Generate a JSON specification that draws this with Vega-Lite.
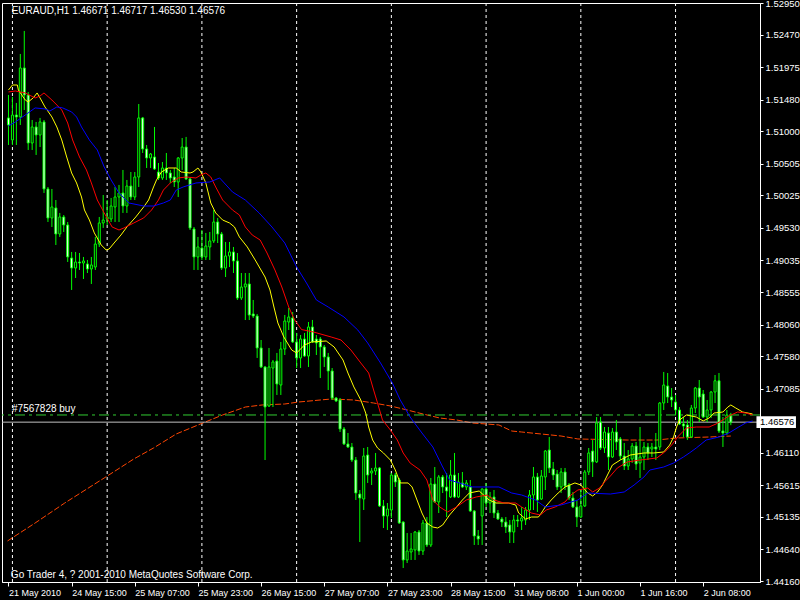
{
  "$schema": "https://vega.github.io/schema/vega-lite/v6.json",
  "width": 758,
  "height": 579,
  "autosize": {"type": "none"},
  "padding": {"left": 2, "top": 3, "right": 40, "bottom": 18},
  "background": "#000000",
  "config": {
    "view": {"stroke": "#ffffff", "strokeWidth": 1},
    "axis": {"labelOverlap": false, "labelBound": false, "labelFlush": false, "labelColor": "#ffffff", "labelFont": "Liberation Sans",
             "tickColor": "#ffffff", "domainColor": "#ffffff", "grid": false, "title": null}
  },
  "datasets": {
    "candles": [
      {"i":0,"o":1.51202,"h":1.51551,"l":1.50791,"c":1.51095},
      {"i":1,"o":1.50867,"h":1.51521,"l":1.50791,"c":1.51247},
      {"i":2,"o":1.51247,"h":1.51430,"l":1.50791,"c":1.51217},
      {"i":3,"o":1.51217,"h":1.52175,"l":1.51095,"c":1.51962},
      {"i":4,"o":1.51962,"h":1.52525,"l":1.51323,"c":1.51551},
      {"i":5,"o":1.51551,"h":1.51597,"l":1.50715,"c":1.50821},
      {"i":6,"o":1.50821,"h":1.51171,"l":1.50715,"c":1.51065},
      {"i":7,"o":1.51065,"h":1.51141,"l":1.50639,"c":1.50943},
      {"i":8,"o":1.50943,"h":1.51202,"l":1.50760,"c":1.51141},
      {"i":9,"o":1.51141,"h":1.51171,"l":1.50061,"c":1.50122},
      {"i":10,"o":1.50122,"h":1.50152,"l":1.49620,"c":1.49681},
      {"i":11,"o":1.49681,"h":1.50122,"l":1.49544,"c":1.49848},
      {"i":12,"o":1.49833,"h":1.49954,"l":1.49270,"c":1.49437},
      {"i":13,"o":1.49437,"h":1.49757,"l":1.49392,"c":1.49696},
      {"i":14,"o":1.49696,"h":1.49726,"l":1.49468,"c":1.49574},
      {"i":15,"o":1.49574,"h":1.49620,"l":1.49012,"c":1.49088},
      {"i":16,"o":1.49072,"h":1.49164,"l":1.48586,"c":1.48920},
      {"i":17,"o":1.48920,"h":1.49164,"l":1.48768,"c":1.49011},
      {"i":18,"o":1.49011,"h":1.49148,"l":1.48890,"c":1.48996},
      {"i":19,"o":1.48996,"h":1.49088,"l":1.48753,"c":1.49027},
      {"i":20,"o":1.48981,"h":1.49042,"l":1.48844,"c":1.48905},
      {"i":21,"o":1.48905,"h":1.49088,"l":1.48677,"c":1.48966},
      {"i":22,"o":1.48935,"h":1.49392,"l":1.48890,"c":1.49285},
      {"i":23,"o":1.49285,"h":1.49696,"l":1.49240,"c":1.49605},
      {"i":24,"o":1.49605,"h":1.50030,"l":1.49529,"c":1.49650},
      {"i":25,"o":1.49665,"h":1.49954,"l":1.49574,"c":1.49696},
      {"i":26,"o":1.49665,"h":1.49985,"l":1.49620,"c":1.49863},
      {"i":27,"o":1.49848,"h":1.50152,"l":1.49620,"c":1.50000},
      {"i":28,"o":1.50000,"h":1.50183,"l":1.49620,"c":1.50061},
      {"i":29,"o":1.50061,"h":1.50411,"l":1.49757,"c":1.49863},
      {"i":30,"o":1.49863,"h":1.50259,"l":1.49757,"c":1.50167},
      {"i":31,"o":1.50167,"h":1.50380,"l":1.49954,"c":1.50000},
      {"i":32,"o":1.50000,"h":1.50380,"l":1.49954,"c":1.50304},
      {"i":33,"o":1.50304,"h":1.51414,"l":1.50152,"c":1.51202},
      {"i":34,"o":1.51202,"h":1.51217,"l":1.50669,"c":1.50730},
      {"i":35,"o":1.50730,"h":1.50791,"l":1.50441,"c":1.50593},
      {"i":36,"o":1.50593,"h":1.50669,"l":1.50441,"c":1.50654},
      {"i":37,"o":1.50608,"h":1.51065,"l":1.50411,"c":1.50426},
      {"i":38,"o":1.50380,"h":1.50517,"l":1.50259,"c":1.50289},
      {"i":39,"o":1.50289,"h":1.50532,"l":1.50259,"c":1.50441},
      {"i":40,"o":1.50441,"h":1.50669,"l":1.50259,"c":1.50365},
      {"i":41,"o":1.50365,"h":1.50411,"l":1.50213,"c":1.50289},
      {"i":42,"o":1.50304,"h":1.50441,"l":1.50152,"c":1.50228},
      {"i":43,"o":1.50228,"h":1.50608,"l":1.50000,"c":1.50593},
      {"i":44,"o":1.50593,"h":1.50897,"l":1.50411,"c":1.50760},
      {"i":45,"o":1.50760,"h":1.50913,"l":1.50259,"c":1.50274},
      {"i":46,"o":1.50274,"h":1.50289,"l":1.49498,"c":1.49529},
      {"i":47,"o":1.49513,"h":1.49544,"l":1.48890,"c":1.49088},
      {"i":48,"o":1.49088,"h":1.49392,"l":1.48890,"c":1.49240},
      {"i":49,"o":1.49224,"h":1.49498,"l":1.49042,"c":1.49088},
      {"i":50,"o":1.49088,"h":1.49453,"l":1.49042,"c":1.49255},
      {"i":51,"o":1.49240,"h":1.49468,"l":1.49042,"c":1.49331},
      {"i":52,"o":1.49331,"h":1.49802,"l":1.49300,"c":1.49620},
      {"i":53,"o":1.49620,"h":1.49681,"l":1.49300,"c":1.49437},
      {"i":54,"o":1.49437,"h":1.49468,"l":1.48890,"c":1.48920},
      {"i":55,"o":1.48920,"h":1.49316,"l":1.48783,"c":1.49103},
      {"i":56,"o":1.49103,"h":1.49316,"l":1.48935,"c":1.49164},
      {"i":57,"o":1.49164,"h":1.49240,"l":1.48844,"c":1.49027},
      {"i":58,"o":1.49027,"h":1.49148,"l":1.48434,"c":1.48464},
      {"i":59,"o":1.48464,"h":1.48844,"l":1.48434,"c":1.48631},
      {"i":60,"o":1.48631,"h":1.48844,"l":1.48129,"c":1.48677},
      {"i":61,"o":1.48677,"h":1.48844,"l":1.48129,"c":1.48205},
      {"i":62,"o":1.48221,"h":1.48434,"l":1.48160,"c":1.48190},
      {"i":63,"o":1.48190,"h":1.48221,"l":1.47552,"c":1.47704},
      {"i":64,"o":1.47704,"h":1.47825,"l":1.47399,"c":1.47415},
      {"i":65,"o":1.47415,"h":1.47430,"l":1.46000,"c":1.46806},
      {"i":66,"o":1.46822,"h":1.47704,"l":1.46806,"c":1.47415},
      {"i":67,"o":1.47399,"h":1.47521,"l":1.46806,"c":1.47491},
      {"i":68,"o":1.47506,"h":1.47628,"l":1.46989,"c":1.47156},
      {"i":69,"o":1.47141,"h":1.47795,"l":1.46989,"c":1.47688},
      {"i":70,"o":1.47688,"h":1.48206,"l":1.47597,"c":1.48114},
      {"i":71,"o":1.48099,"h":1.48312,"l":1.47977,"c":1.48175},
      {"i":72,"o":1.48160,"h":1.48251,"l":1.47780,"c":1.47795},
      {"i":73,"o":1.47795,"h":1.47932,"l":1.47399,"c":1.47552},
      {"i":74,"o":1.47552,"h":1.47901,"l":1.47399,"c":1.47840},
      {"i":75,"o":1.47840,"h":1.47932,"l":1.47567,"c":1.47582},
      {"i":76,"o":1.47582,"h":1.48099,"l":1.47415,"c":1.48023},
      {"i":77,"o":1.48023,"h":1.48130,"l":1.47780,"c":1.47795},
      {"i":78,"o":1.47840,"h":1.47901,"l":1.47597,"c":1.47780},
      {"i":79,"o":1.47840,"h":1.47871,"l":1.47247,"c":1.47719},
      {"i":80,"o":1.47719,"h":1.47749,"l":1.47415,"c":1.47567},
      {"i":81,"o":1.47567,"h":1.47628,"l":1.47065,"c":1.47354},
      {"i":82,"o":1.47354,"h":1.47399,"l":1.46913,"c":1.46943},
      {"i":83,"o":1.46943,"h":1.46958,"l":1.46882,"c":1.46898},
      {"i":84,"o":1.46913,"h":1.46943,"l":1.46426,"c":1.46472},
      {"i":85,"o":1.46472,"h":1.46502,"l":1.46228,"c":1.46244},
      {"i":86,"o":1.46244,"h":1.46411,"l":1.46183,"c":1.46198},
      {"i":87,"o":1.46198,"h":1.46259,"l":1.45970,"c":1.46000},
      {"i":88,"o":1.46000,"h":1.46046,"l":1.45392,"c":1.45498},
      {"i":89,"o":1.45483,"h":1.45544,"l":1.44753,"c":1.45422},
      {"i":90,"o":1.45407,"h":1.46183,"l":1.45240,"c":1.46061},
      {"i":91,"o":1.46076,"h":1.46198,"l":1.45651,"c":1.45772},
      {"i":92,"o":1.45803,"h":1.45879,"l":1.45620,"c":1.45833},
      {"i":93,"o":1.45833,"h":1.46107,"l":1.45772,"c":1.45879},
      {"i":94,"o":1.45879,"h":1.45894,"l":1.45286,"c":1.45301},
      {"i":95,"o":1.45301,"h":1.45392,"l":1.44966,"c":1.45149},
      {"i":96,"o":1.45149,"h":1.45346,"l":1.44936,"c":1.45255},
      {"i":97,"o":1.45240,"h":1.45803,"l":1.45118,"c":1.45772},
      {"i":98,"o":1.45772,"h":1.45803,"l":1.45590,"c":1.45666},
      {"i":99,"o":1.45696,"h":1.45727,"l":1.45030,"c":1.45042},
      {"i":100,"o":1.45057,"h":1.45070,"l":1.44358,"c":1.44480},
      {"i":101,"o":1.44480,"h":1.44890,"l":1.44434,"c":1.44616},
      {"i":102,"o":1.44601,"h":1.44890,"l":1.44480,"c":1.44647},
      {"i":103,"o":1.44632,"h":1.44920,"l":1.44480,"c":1.44905},
      {"i":104,"o":1.44905,"h":1.44936,"l":1.44556,"c":1.44616},
      {"i":105,"o":1.44616,"h":1.45088,"l":1.44556,"c":1.45042},
      {"i":106,"o":1.45042,"h":1.45133,"l":1.44677,"c":1.44708},
      {"i":107,"o":1.44708,"h":1.45727,"l":1.44677,"c":1.45635},
      {"i":108,"o":1.45635,"h":1.45894,"l":1.45346,"c":1.45362},
      {"i":109,"o":1.45362,"h":1.45772,"l":1.45194,"c":1.45742},
      {"i":110,"o":1.45742,"h":1.45772,"l":1.45498,"c":1.45590},
      {"i":111,"o":1.45590,"h":1.45803,"l":1.45133,"c":1.45529},
      {"i":112,"o":1.45438,"h":1.46000,"l":1.45422,"c":1.45772},
      {"i":113,"o":1.45772,"h":1.46107,"l":1.45422,"c":1.45438},
      {"i":114,"o":1.45438,"h":1.45803,"l":1.45422,"c":1.45666},
      {"i":115,"o":1.45651,"h":1.45818,"l":1.45574,"c":1.45590},
      {"i":116,"o":1.45590,"h":1.45696,"l":1.45544,"c":1.45651},
      {"i":117,"o":1.45590,"h":1.45696,"l":1.45210,"c":1.45225},
      {"i":118,"o":1.45225,"h":1.45240,"l":1.44708,"c":1.44845},
      {"i":119,"o":1.44845,"h":1.44936,"l":1.44708,"c":1.44799},
      {"i":120,"o":1.45149,"h":1.45570,"l":1.44708,"c":1.45559},
      {"i":121,"o":1.45559,"h":1.45651,"l":1.45286,"c":1.45346},
      {"i":122,"o":1.45346,"h":1.45514,"l":1.45194,"c":1.45438},
      {"i":123,"o":1.45438,"h":1.45544,"l":1.45118,"c":1.45194},
      {"i":124,"o":1.45194,"h":1.45240,"l":1.45088,"c":1.45103},
      {"i":125,"o":1.45103,"h":1.45133,"l":1.44981,"c":1.45057},
      {"i":126,"o":1.45057,"h":1.45133,"l":1.44890,"c":1.44981},
      {"i":127,"o":1.45012,"h":1.45088,"l":1.44738,"c":1.44905},
      {"i":128,"o":1.44905,"h":1.45164,"l":1.44738,"c":1.45088},
      {"i":129,"o":1.45088,"h":1.45164,"l":1.44981,"c":1.45073},
      {"i":130,"o":1.45073,"h":1.45286,"l":1.44936,"c":1.45118},
      {"i":131,"o":1.45088,"h":1.45286,"l":1.45012,"c":1.45240},
      {"i":132,"o":1.45240,"h":1.45544,"l":1.45088,"c":1.45468},
      {"i":133,"o":1.45468,"h":1.45894,"l":1.45240,"c":1.45742},
      {"i":134,"o":1.45742,"h":1.45803,"l":1.45210,"c":1.45392},
      {"i":135,"o":1.45407,"h":1.45848,"l":1.45392,"c":1.45757},
      {"i":136,"o":1.45742,"h":1.46152,"l":1.45544,"c":1.46137},
      {"i":137,"o":1.46152,"h":1.46350,"l":1.45803,"c":1.45879},
      {"i":138,"o":1.45863,"h":1.45970,"l":1.45696,"c":1.45772},
      {"i":139,"o":1.45787,"h":1.45848,"l":1.45544,"c":1.45590},
      {"i":140,"o":1.45590,"h":1.45879,"l":1.45498,"c":1.45818},
      {"i":141,"o":1.45818,"h":1.45879,"l":1.45544,"c":1.45605},
      {"i":142,"o":1.45620,"h":1.45651,"l":1.45392,"c":1.45422},
      {"i":143,"o":1.45422,"h":1.45514,"l":1.45270,"c":1.45286},
      {"i":144,"o":1.45286,"h":1.45392,"l":1.44981,"c":1.45133},
      {"i":145,"o":1.45133,"h":1.45544,"l":1.45120,"c":1.45301},
      {"i":146,"o":1.45301,"h":1.45848,"l":1.45286,"c":1.45818},
      {"i":147,"o":1.45818,"h":1.46183,"l":1.45772,"c":1.46107},
      {"i":148,"o":1.46137,"h":1.46304,"l":1.45742,"c":1.45971},
      {"i":149,"o":1.45971,"h":1.46654,"l":1.45955,"c":1.46563},
      {"i":150,"o":1.46578,"h":1.46654,"l":1.46152,"c":1.46183},
      {"i":151,"o":1.46183,"h":1.46502,"l":1.46107,"c":1.46426},
      {"i":152,"o":1.46411,"h":1.46502,"l":1.45848,"c":1.46046},
      {"i":153,"o":1.46046,"h":1.46487,"l":1.46031,"c":1.46426},
      {"i":154,"o":1.46426,"h":1.46609,"l":1.46152,"c":1.46274},
      {"i":155,"o":1.46320,"h":1.46350,"l":1.46000,"c":1.46061},
      {"i":156,"o":1.46061,"h":1.46259,"l":1.45848,"c":1.45909},
      {"i":157,"o":1.45909,"h":1.46152,"l":1.45848,"c":1.46016},
      {"i":158,"o":1.46016,"h":1.46259,"l":1.45955,"c":1.46213},
      {"i":159,"o":1.46213,"h":1.46274,"l":1.45848,"c":1.45939},
      {"i":160,"o":1.45955,"h":1.46502,"l":1.45727,"c":1.46046},
      {"i":161,"o":1.46046,"h":1.46274,"l":1.45848,"c":1.46198},
      {"i":162,"o":1.46198,"h":1.46259,"l":1.46000,"c":1.46107},
      {"i":163,"o":1.46168,"h":1.46259,"l":1.46046,"c":1.46198},
      {"i":164,"o":1.46198,"h":1.46411,"l":1.46000,"c":1.46168},
      {"i":165,"o":1.46198,"h":1.46882,"l":1.46152,"c":1.46867},
      {"i":166,"o":1.46867,"h":1.47339,"l":1.46761,"c":1.47141},
      {"i":167,"o":1.47126,"h":1.47323,"l":1.46867,"c":1.46958},
      {"i":168,"o":1.46958,"h":1.47095,"l":1.46806,"c":1.46913},
      {"i":169,"o":1.46882,"h":1.46989,"l":1.46685,"c":1.46761},
      {"i":170,"o":1.46761,"h":1.46806,"l":1.46533,"c":1.46548},
      {"i":171,"o":1.46548,"h":1.46654,"l":1.46350,"c":1.46517},
      {"i":172,"o":1.46533,"h":1.46609,"l":1.46304,"c":1.46350},
      {"i":173,"o":1.46350,"h":1.46837,"l":1.46335,"c":1.46791},
      {"i":174,"o":1.46791,"h":1.47111,"l":1.46715,"c":1.47095},
      {"i":175,"o":1.47095,"h":1.47217,"l":1.46578,"c":1.46958},
      {"i":176,"o":1.47004,"h":1.47065,"l":1.46639,"c":1.46654},
      {"i":177,"o":1.46654,"h":1.46913,"l":1.46578,"c":1.46761},
      {"i":178,"o":1.46761,"h":1.47050,"l":1.46639,"c":1.47034},
      {"i":179,"o":1.47034,"h":1.47293,"l":1.46867,"c":1.47205},
      {"i":180,"o":1.47205,"h":1.47323,"l":1.46411,"c":1.46441},
      {"i":181,"o":1.46441,"h":1.46654,"l":1.46198,"c":1.46411},
      {"i":182,"o":1.46411,"h":1.46761,"l":1.46381,"c":1.46685},
      {"i":183,"o":1.46671,"h":1.46717,"l":1.46530,"c":1.46576}
    ],
    "ma": [
      {"s":"yellow","i":0,"p":1.51627},{"s":"yellow","i":1,"p":1.51703},{"s":"yellow","i":2.25,"p":1.51703},{"s":"yellow","i":2.5,"p":1.51627},{"s":"yellow","i":4.25,"p":1.51475},{"s":"yellow","i":5,"p":1.51445},{"s":"yellow","i":6.25,"p":1.51506},{"s":"yellow","i":7.25,"p":1.51582},{"s":"yellow","i":8,"p":1.51506},{"s":"yellow","i":9.25,"p":1.51369},{"s":"yellow","i":11,"p":1.51217},{"s":"yellow","i":12.25,"p":1.51065},{"s":"yellow","i":13.5,"p":1.50867},{"s":"yellow","i":14.75,"p":1.50608},{"s":"yellow","i":16,"p":1.50365},{"s":"yellow","i":17.25,"p":1.50213},{"s":"yellow","i":18.5,"p":1.50000},{"s":"yellow","i":19.25,"p":1.49802},{"s":"yellow","i":20.5,"p":1.49650},{"s":"yellow","i":21.75,"p":1.49453},{"s":"yellow","i":23.5,"p":1.49270},{"s":"yellow","i":24.75,"p":1.49194},{"s":"yellow","i":25.5,"p":1.49209},{"s":"yellow","i":26.75,"p":1.49300},{"s":"yellow","i":28.5,"p":1.49422},{"s":"yellow","i":30,"p":1.49544},{"s":"yellow","i":32.25,"p":1.49696},{"s":"yellow","i":34.25,"p":1.49848},{"s":"yellow","i":35.5,"p":1.49954},{"s":"yellow","i":36.75,"p":1.50152},{"s":"yellow","i":37.5,"p":1.50259},{"s":"yellow","i":38.75,"p":1.50380},{"s":"yellow","i":40.5,"p":1.50441},{"s":"yellow","i":42.5,"p":1.50441},{"s":"yellow","i":43.75,"p":1.50380},{"s":"yellow","i":46,"p":1.50365},{"s":"yellow","i":46.75,"p":1.50380},{"s":"yellow","i":48,"p":1.50441},{"s":"yellow","i":48.75,"p":1.50380},{"s":"yellow","i":50,"p":1.50213},{"s":"yellow","i":51.25,"p":1.49909},{"s":"yellow","i":52.5,"p":1.49757},{"s":"yellow","i":54.25,"p":1.49650},{"s":"yellow","i":56,"p":1.49605},{"s":"yellow","i":57.25,"p":1.49544},{"s":"yellow","i":58.5,"p":1.49392},{"s":"yellow","i":60.5,"p":1.49240},{"s":"yellow","i":62.5,"p":1.49042},{"s":"yellow","i":65,"p":1.48783},{"s":"yellow","i":66.25,"p":1.48586},{"s":"yellow","i":67.25,"p":1.48327},{"s":"yellow","i":68.25,"p":1.48084},{"s":"yellow","i":69.75,"p":1.47871},{"s":"yellow","i":71.75,"p":1.47673},{"s":"yellow","i":73,"p":1.47628},{"s":"yellow","i":75,"p":1.47749},{"s":"yellow","i":76.75,"p":1.47795},{"s":"yellow","i":80.5,"p":1.47810},{"s":"yellow","i":82.5,"p":1.47719},{"s":"yellow","i":84.75,"p":1.47521},{"s":"yellow","i":86,"p":1.47323},{"s":"yellow","i":87.5,"p":1.47111},{"s":"yellow","i":89.25,"p":1.46913},{"s":"yellow","i":90.5,"p":1.46715},{"s":"yellow","i":91.25,"p":1.46502},{"s":"yellow","i":92.25,"p":1.46304},{"s":"yellow","i":93.5,"p":1.46183},{"s":"yellow","i":95,"p":1.46107},{"s":"yellow","i":96.75,"p":1.46000},{"s":"yellow","i":98,"p":1.45848},{"s":"yellow","i":99.25,"p":1.45651},{"s":"yellow","i":101.25,"p":1.45651},{"s":"yellow","i":102.25,"p":1.45590},{"s":"yellow","i":103.5,"p":1.45392},{"s":"yellow","i":104.75,"p":1.45194},{"s":"yellow","i":106,"p":1.45042},{"s":"yellow","i":107.5,"p":1.44981},{"s":"yellow","i":108.75,"p":1.44966},{"s":"yellow","i":110,"p":1.45012},{"s":"yellow","i":111.75,"p":1.45164},{"s":"yellow","i":113.5,"p":1.45286},{"s":"yellow","i":115,"p":1.45392},{"s":"yellow","i":116.75,"p":1.45498},{"s":"yellow","i":119.25,"p":1.45529},{"s":"yellow","i":121.75,"p":1.45392},{"s":"yellow","i":123.5,"p":1.45346},{"s":"yellow","i":126.75,"p":1.45346},{"s":"yellow","i":128.5,"p":1.45316},{"s":"yellow","i":129.25,"p":1.45194},{"s":"yellow","i":131,"p":1.45103},{"s":"yellow","i":132.5,"p":1.45133},{"s":"yellow","i":134.25,"p":1.45133},{"s":"yellow","i":135,"p":1.45194},{"s":"yellow","i":136,"p":1.45286},{"s":"yellow","i":137.5,"p":1.45392},{"s":"yellow","i":139.25,"p":1.45498},{"s":"yellow","i":141,"p":1.45590},{"s":"yellow","i":143.5,"p":1.45651},{"s":"yellow","i":145,"p":1.45620},{"s":"yellow","i":146.75,"p":1.45498},{"s":"yellow","i":148,"p":1.45453},{"s":"yellow","i":149.25,"p":1.45514},{"s":"yellow","i":150.5,"p":1.45620},{"s":"yellow","i":151.75,"p":1.45772},{"s":"yellow","i":153,"p":1.45924},{"s":"yellow","i":155,"p":1.46000},{"s":"yellow","i":157.5,"p":1.46076},{"s":"yellow","i":161,"p":1.46107},{"s":"yellow","i":163.5,"p":1.46107},{"s":"yellow","i":166,"p":1.46122},{"s":"yellow","i":167.5,"p":1.46228},{"s":"yellow","i":168.5,"p":1.46350},{"s":"yellow","i":169.25,"p":1.46502},{"s":"yellow","i":170,"p":1.46609},{"s":"yellow","i":171.75,"p":1.46685},{"s":"yellow","i":174.25,"p":1.46654},{"s":"yellow","i":176,"p":1.46594},{"s":"yellow","i":177.5,"p":1.46639},{"s":"yellow","i":178.75,"p":1.46715},{"s":"yellow","i":181,"p":1.46730},{"s":"yellow","i":182.25,"p":1.46806},{"s":"yellow","i":183,"p":1.46837},{"s":"yellow","i":184.25,"p":1.46791},{"s":"yellow","i":186,"p":1.46730},{"s":"yellow","i":188.5,"p":1.46700},
      {"s":"red","i":0,"p":1.51597},{"s":"red","i":1.75,"p":1.51612},{"s":"red","i":4.25,"p":1.51582},{"s":"red","i":6.75,"p":1.51506},{"s":"red","i":8,"p":1.51536},{"s":"red","i":9,"p":1.51582},{"s":"red","i":11,"p":1.51475},{"s":"red","i":13.5,"p":1.51323},{"s":"red","i":15,"p":1.51125},{"s":"red","i":16.25,"p":1.50867},{"s":"red","i":18,"p":1.50608},{"s":"red","i":19.75,"p":1.50411},{"s":"red","i":21,"p":1.50213},{"s":"red","i":22.5,"p":1.49954},{"s":"red","i":24.25,"p":1.49757},{"s":"red","i":26.25,"p":1.49544},{"s":"red","i":28,"p":1.49498},{"s":"red","i":29.25,"p":1.49529},{"s":"red","i":31.75,"p":1.49605},{"s":"red","i":34.25,"p":1.49681},{"s":"red","i":36.25,"p":1.49802},{"s":"red","i":38,"p":1.49954},{"s":"red","i":39.25,"p":1.50106},{"s":"red","i":41,"p":1.50213},{"s":"red","i":43,"p":1.50289},{"s":"red","i":45,"p":1.50304},{"s":"red","i":47.5,"p":1.50289},{"s":"red","i":48.75,"p":1.50335},{"s":"red","i":50,"p":1.50365},{"s":"red","i":51.25,"p":1.50304},{"s":"red","i":52.5,"p":1.50152},{"s":"red","i":54.25,"p":1.49954},{"s":"red","i":56.75,"p":1.49802},{"s":"red","i":58.5,"p":1.49726},{"s":"red","i":60,"p":1.49544},{"s":"red","i":61.75,"p":1.49422},{"s":"red","i":63.75,"p":1.49346},{"s":"red","i":65.5,"p":1.49148},{"s":"red","i":67.5,"p":1.48890},{"s":"red","i":69.25,"p":1.48631},{"s":"red","i":71,"p":1.48327},{"s":"red","i":72.5,"p":1.48130},{"s":"red","i":74.25,"p":1.47984},{"s":"red","i":77.25,"p":1.47947},{"s":"red","i":81.75,"p":1.47871},{"s":"red","i":84.25,"p":1.47825},{"s":"red","i":86.75,"p":1.47673},{"s":"red","i":89.25,"p":1.47476},{"s":"red","i":91.25,"p":1.47323},{"s":"red","i":92.5,"p":1.47065},{"s":"red","i":93.5,"p":1.46867},{"s":"red","i":94.75,"p":1.46609},{"s":"red","i":96.75,"p":1.46457},{"s":"red","i":98.5,"p":1.46304},{"s":"red","i":100,"p":1.46107},{"s":"red","i":101.75,"p":1.45955},{"s":"red","i":104.25,"p":1.45848},{"s":"red","i":106,"p":1.45696},{"s":"red","i":107.5,"p":1.45392},{"s":"red","i":109.25,"p":1.45286},{"s":"red","i":111.25,"p":1.45210},{"s":"red","i":113.5,"p":1.45286},{"s":"red","i":116,"p":1.45392},{"s":"red","i":118.5,"p":1.45438},{"s":"red","i":121.25,"p":1.45468},{"s":"red","i":123,"p":1.45392},{"s":"red","i":125.5,"p":1.45346},{"s":"red","i":128.5,"p":1.45346},{"s":"red","i":130,"p":1.45286},{"s":"red","i":132.5,"p":1.45194},{"s":"red","i":134.75,"p":1.45164},{"s":"red","i":136.25,"p":1.45240},{"s":"red","i":138.5,"p":1.45286},{"s":"red","i":141,"p":1.45362},{"s":"red","i":142.5,"p":1.45468},{"s":"red","i":144.25,"p":1.45544},{"s":"red","i":146.75,"p":1.45574},{"s":"red","i":148,"p":1.45514},{"s":"red","i":149.75,"p":1.45574},{"s":"red","i":151,"p":1.45666},{"s":"red","i":152.5,"p":1.45757},{"s":"red","i":154.25,"p":1.45879},{"s":"red","i":156.75,"p":1.45970},{"s":"red","i":160,"p":1.46000},{"s":"red","i":164.25,"p":1.46031},{"s":"red","i":166.25,"p":1.46122},{"s":"red","i":168,"p":1.46228},{"s":"red","i":169.75,"p":1.46365},{"s":"red","i":171.75,"p":1.46487},{"s":"red","i":174.25,"p":1.46502},{"s":"red","i":177.5,"p":1.46502},{"s":"red","i":179.25,"p":1.46548},{"s":"red","i":181,"p":1.46609},{"s":"red","i":182.5,"p":1.46670},{"s":"red","i":184.75,"p":1.46730},{"s":"red","i":186.75,"p":1.46715},{"s":"red","i":188.5,"p":1.46685},
      {"s":"blue","i":0,"p":1.51080},{"s":"blue","i":1.75,"p":1.51141},{"s":"blue","i":4.25,"p":1.51247},{"s":"blue","i":6.75,"p":1.51354},{"s":"blue","i":9.25,"p":1.51339},{"s":"blue","i":10.5,"p":1.51308},{"s":"blue","i":12.25,"p":1.51369},{"s":"blue","i":13.75,"p":1.51354},{"s":"blue","i":16,"p":1.51293},{"s":"blue","i":17.25,"p":1.51217},{"s":"blue","i":18.5,"p":1.51065},{"s":"blue","i":20.5,"p":1.50867},{"s":"blue","i":22.5,"p":1.50715},{"s":"blue","i":24.25,"p":1.50456},{"s":"blue","i":26,"p":1.50259},{"s":"blue","i":28,"p":1.50061},{"s":"blue","i":30.5,"p":1.49909},{"s":"blue","i":34.25,"p":1.49863},{"s":"blue","i":36.75,"p":1.49863},{"s":"blue","i":39.25,"p":1.49909},{"s":"blue","i":41,"p":1.49954},{"s":"blue","i":42.5,"p":1.50106},{"s":"blue","i":44.25,"p":1.50152},{"s":"blue","i":47.5,"p":1.50213},{"s":"blue","i":51,"p":1.50228},{"s":"blue","i":53.5,"p":1.50289},{"s":"blue","i":56.75,"p":1.50076},{"s":"blue","i":60,"p":1.49954},{"s":"blue","i":63.5,"p":1.49757},{"s":"blue","i":66.75,"p":1.49544},{"s":"blue","i":70,"p":1.49300},{"s":"blue","i":73,"p":1.48935},{"s":"blue","i":75.5,"p":1.48692},{"s":"blue","i":78,"p":1.48434},{"s":"blue","i":81,"p":1.48327},{"s":"blue","i":85,"p":1.48175},{"s":"blue","i":88.5,"p":1.47977},{"s":"blue","i":91,"p":1.47780},{"s":"blue","i":94.25,"p":1.47476},{"s":"blue","i":97.25,"p":1.47171},{"s":"blue","i":99.25,"p":1.46913},{"s":"blue","i":101.75,"p":1.46654},{"s":"blue","i":104.75,"p":1.46411},{"s":"blue","i":107.5,"p":1.46198},{"s":"blue","i":110,"p":1.45894},{"s":"blue","i":111.75,"p":1.45696},{"s":"blue","i":117.5,"p":1.45590},{"s":"blue","i":121.75,"p":1.45590},{"s":"blue","i":124.25,"p":1.45590},{"s":"blue","i":127.5,"p":1.45498},{"s":"blue","i":130,"p":1.45468},{"s":"blue","i":133.5,"p":1.45392},{"s":"blue","i":136,"p":1.45286},{"s":"blue","i":140,"p":1.45316},{"s":"blue","i":144.25,"p":1.45392},{"s":"blue","i":146.75,"p":1.45498},{"s":"blue","i":152.5,"p":1.45483},{"s":"blue","i":156,"p":1.45514},{"s":"blue","i":158.5,"p":1.45620},{"s":"blue","i":161,"p":1.45742},{"s":"blue","i":162.5,"p":1.45848},{"s":"blue","i":166,"p":1.45894},{"s":"blue","i":168.5,"p":1.45955},{"s":"blue","i":171,"p":1.46046},{"s":"blue","i":172.5,"p":1.46107},{"s":"blue","i":174.25,"p":1.46183},{"s":"blue","i":176.75,"p":1.46304},{"s":"blue","i":180,"p":1.46350},{"s":"blue","i":182.5,"p":1.46411},{"s":"blue","i":185,"p":1.46502},{"s":"blue","i":186.75,"p":1.46563},{"s":"blue","i":188.5,"p":1.46594}
    ],
    "longma": [
      {"i":-0.25,"p":1.44769},{"i":6.75,"p":1.45042},{"i":14.25,"p":1.45346},{"i":24.25,"p":1.45727},{"i":31.75,"p":1.46016},{"i":36.75,"p":1.46183},{"i":42.5,"p":1.46396},{"i":49.25,"p":1.46563},{"i":54.25,"p":1.46685},{"i":60,"p":1.46806},{"i":64.25,"p":1.46837},{"i":70,"p":1.46852},{"i":73.5,"p":1.46882},{"i":81.75,"p":1.46928},{"i":87.5,"p":1.46913},{"i":92.5,"p":1.46867},{"i":96.75,"p":1.46822},{"i":101,"p":1.46761},{"i":105,"p":1.46700},{"i":109.25,"p":1.46639},{"i":113.5,"p":1.46609},{"i":117.5,"p":1.46563},{"i":121,"p":1.46548},{"i":124.25,"p":1.46533},{"i":127.5,"p":1.46441},{"i":130,"p":1.46426},{"i":140,"p":1.46365},{"i":144.25,"p":1.46320},{"i":156.75,"p":1.46304},{"i":164.25,"p":1.46304},{"i":169.25,"p":1.46335},{"i":177.5,"p":1.46350},{"i":183,"p":1.46365}
    ],
    "grid": [{"i":1},{"i":25},{"i":49},{"i":73},{"i":97},{"i":121},{"i":145},{"i":169}],
    "texts": [
      {"i":0.8,"p":1.52829,"t":"EURAUD,H1  1.46671 1.46717 1.46530 1.46576"},
      {"i":0.6,"p":1.44251,"t":"Go Trader 4, ? 2001-2010 MetaQuotes Software Corp."},
      {"i":0.9,"p":1.46776,"t":"#7567828 buy"}
    ],
    "hl": [{"p":1.46685,"k":"order"},{"p":1.46576,"k":"bid"}],
    "pricebox": [{"i":189.5,"i2":199.5,"p":1.46486,"p2":1.46666,"xt":190.4,"pt":1.46576,"t":"1.46576"}]
  },
  "encoding": {
    "x": {"type": "quantitative", "title": null,
          "scale": {"domain": [-0.375, 189.125], "nice": false, "zero": false},
          "axis": {"orient": "bottom", "values": [0,16,32,48,64,80,96,112,128,144,160,176],
                   "labelExpr": "['21 May 2010','24 May 15:00','25 May 07:00','25 May 23:00','26 May 15:00','27 May 07:00','27 May 23:00','28 May 15:00','31 May 08:00','1 Jun 00:00','1 Jun 16:00','2 Jun 08:00'][round(datum.value/16)]",
                   "labelAlign": "left", "labelFontSize": 9, "labelPadding": 2, "labelDx": -1, "tickSize": 4,
                   "labelOverlap": false, "labelBound": false, "labelFlush": false}},
    "y": {"type": "quantitative", "title": null,
          "scale": {"domain": [1.44145, 1.5295], "nice": false, "zero": false},
          "axis": {"orient": "right", "values": [1.5295,1.5247,1.51975,1.5148,1.51,1.50505,1.50025,1.4953,1.49035,1.48555,1.4806,1.4758,1.47085,1.4611,1.45615,1.45135,1.4464,1.4416],
                   "format": ".5f", "labelFontSize": 9.5, "labelPadding": 2, "tickSize": 3,
                   "labelOverlap": false, "labelBound": false, "labelFlush": false}}
  },
  "layer": [
    {
      "data": {"name": "grid"},
      "mark": {"type": "rule", "color": "#ffffff", "strokeDash": [3, 3], "strokeWidth": 1},
      "encoding": {"x": {"field": "i"}}
    },
    {
      "data": {"name": "longma"},
      "mark": {"type": "line", "color": "#ff4500", "strokeWidth": 1, "strokeDash": [6, 2]},
      "encoding": {"x": {"field": "i"}, "y": {"field": "p"}}
    },
    {
      "data": {"name": "hl"},
      "transform": [{"filter": "datum.k == 'order'"}],
      "mark": {"type": "rule", "color": "#32cd32", "strokeWidth": 1, "strokeDash": [10, 4, 3, 4]},
      "encoding": {"y": {"field": "p"}}
    },
    {
      "data": {"name": "hl"},
      "transform": [{"filter": "datum.k == 'bid'"}],
      "mark": {"type": "rule", "color": "#c0c0c0", "strokeWidth": 1},
      "encoding": {"y": {"field": "p"}}
    },
    {
      "data": {"name": "candles"},
      "mark": {"type": "rule", "color": "#00ff00", "strokeWidth": 1},
      "encoding": {"x": {"field": "i"}, "y": {"field": "l"}, "y2": {"field": "h"}}
    },
    {
      "data": {"name": "candles"},
      "mark": {"type": "bar", "size": 2, "stroke": "#00ff00", "strokeWidth": 1},
      "encoding": {
        "x": {"field": "i"}, "y": {"field": "o"}, "y2": {"field": "c"},
        "fill": {"condition": {"test": "datum.c < datum.o", "value": "#ffffff"}, "value": "#000000"}
      }
    },
    {
      "data": {"name": "ma"},
      "mark": {"type": "line", "strokeWidth": 1},
      "encoding": {
        "x": {"field": "i"}, "y": {"field": "p"},
        "color": {"field": "s", "type": "nominal", "legend": null,
                  "scale": {"domain": ["blue", "red", "yellow"], "range": ["#0000ff", "#ff0000", "#ffff00"]}}
      }
    },
    {
      "data": {"name": "texts"},
      "mark": {"type": "text", "color": "#ffffff", "font": "Liberation Sans", "fontSize": 10, "align": "left", "baseline": "middle"},
      "encoding": {"x": {"field": "i"}, "y": {"field": "p"}, "text": {"field": "t"}}
    },
    {
      "data": {"name": "pricebox"},
      "mark": {"type": "rect", "color": "#ffffff"},
      "encoding": {"x": {"field": "i"}, "x2": {"field": "i2"}, "y": {"field": "p"}, "y2": {"field": "p2"}}
    },
    {
      "data": {"name": "pricebox"},
      "mark": {"type": "text", "color": "#000000", "font": "Liberation Sans", "fontSize": 9.5, "align": "left", "baseline": "middle"},
      "encoding": {"x": {"field": "xt"}, "y": {"field": "pt"}, "text": {"field": "t"}}
    }
  ]
}
